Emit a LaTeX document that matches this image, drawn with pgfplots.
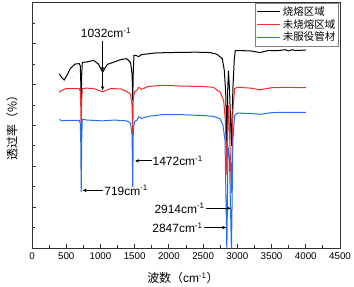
\documentclass[border=0pt]{standalone}
\usepackage{fontspec}
\setmainfont{Liberation Sans}
\newfontfamily\cjk{Noto Sans CJK SC}
\usepackage{pgfplots}
\pgfplotsset{compat=1.18}
\usetikzlibrary{arrows.meta}
\definecolor{myred}{RGB}{235,45,45}
\definecolor{myblue}{RGB}{35,110,235}
\definecolor{axgray}{RGB}{50,50,50}
\begin{document}
\begin{tikzpicture}
\begin{axis}[
  scale only axis, width=308bp, height=245.3bp,
  xmin=0, xmax=4500, ymin=0, ymax=6,
  xtick={0,500,...,4500}, minor x tick num=1,
  ytick={0,1,...,6}, minor y tick num=1, yticklabels={},
  tick pos=left,
  major tick length=4bp, minor tick length=2.5bp,
  axis line style={line width=0.9bp, axgray},
  tick style={line width=0.8bp, axgray},
  /pgf/number format/assume math mode=true,
  /pgf/number format/set thousands separator={},
  xticklabel style={font=\fontsize{9.8}{11}\selectfont, yshift=-1bp},
  xlabel={{\cjk 波数（}cm\textsuperscript{-1}{\cjk ）}},
  ylabel={{\cjk 透过率（}\%{\cjk ）}},
  xlabel style={font=\fontsize{12}{13}\selectfont, at={(axis description cs:0.49,-0.122)}, anchor=center},
  ylabel style={font=\fontsize{12}{13}\selectfont\cjk, at={(axis description cs:-0.065,0.5)}, anchor=center},
  legend style={at={(1,1)}, anchor=north east, xshift=-1bp, draw=gray, line width=0.6bp,
    font=\fontsize{10.5}{12}\selectfont\cjk, row sep=-1.5bp, inner sep=1.5bp, cells={anchor=west}},
  legend image code/.code={\draw[#1, line width=1.1bp] (0bp,0bp) -- (23bp,0bp);},
  every axis plot/.append style={line width=1bp},
]
\addplot[black] coordinates {
(400,4.26) (430,4.18) (470,4.11) (520,4.25) (560,4.39) (630,4.50) (690,4.51) (705,4.46) (712,4.10) (719,3.61) (726,4.22) (735,4.54)
(800,4.55) (900,4.59) (970,4.50) (1032,4.30) (1100,4.49) (1184,4.54) (1300,4.61) (1384,4.63) (1440,4.54) (1462,4.25) (1472,3.61)
(1480,4.34) (1490,4.71) (1520,4.71) (1560,4.68) (1600,4.73) (1800,4.77) (2000,4.78) (2400,4.79) (2600,4.78) (2700,4.74) (2780,4.63)
(2810,4.34) (2830,3.80) (2847,2.50) (2860,3.90) (2870,4.34) (2885,3.90) (2914,2.50) (2935,3.90) (2955,4.60) (2970,4.83) (3000,4.83)
(3200,4.82) (3330,4.78) (3450,4.83) (3600,4.83) (3700,4.85) (3750,4.82) (3800,4.85) (3850,4.83) (4000,4.84)
};
\addlegendentry{烧熔区域}
\addplot[myred] coordinates {
(400,3.81) (430,3.85) (500,3.90) (600,3.90) (690,3.90) (705,3.83) (712,3.49) (719,2.76) (726,3.61) (735,3.90) (800,3.91) (900,3.90)
(1032,3.82) (1150,3.90) (1300,3.89) (1384,3.83) (1440,3.76) (1462,3.49) (1472,2.76) (1480,3.66) (1500,3.83) (1530,3.85) (1560,3.93)
(1600,3.88) (1700,3.95) (1900,3.98) (2200,3.96) (2500,3.95) (2650,3.93) (2750,3.81) (2800,3.61) (2825,3.12) (2847,1.78) (2865,3.30)
(2872,3.49) (2885,2.88) (2914,1.34) (2935,3.37) (2960,3.90) (3000,3.93) (3200,3.91) (3330,3.87) (3500,3.92) (3700,3.93) (4000,3.92)
};
\addlegendentry{未烧熔区域}
\addplot[myblue] coordinates {
(400,3.14) (450,3.11) (500,3.12) (690,3.12) (705,3.05) (712,2.63) (719,1.37) (726,2.63) (735,3.15) (800,3.13) (1032,3.11) (1200,3.13)
(1384,3.11) (1440,3.05) (1462,2.76) (1472,1.49) (1480,2.88) (1500,3.10) (1530,3.12) (1560,3.21) (1600,3.17) (1700,3.22) (1900,3.26)
(2200,3.26) (2500,3.24) (2650,3.22) (2750,3.16) (2790,3.00) (2820,2.63) (2847,-0.10) (2862,2.20) (2872,2.39) (2885,2.20) (2914,-0.10)
(2935,2.63) (2960,3.24) (3000,3.30) (3200,3.29) (3330,3.27) (3500,3.31) (3700,3.32) (4000,3.32)
};
\addlegendentry{未服役管材}
% annotations
\node[font=\fontsize{12}{13}\selectfont, inner sep=0] at (axis cs:1080,5.26) {1032cm\textsuperscript{-1}};
\draw[-{Stealth[length=4bp,width=3.5bp]}, line width=0.9bp] (axis cs:1032,5.07) -- (axis cs:1032,4.33);
\draw[-{Stealth[length=4bp,width=3.5bp]}, line width=0.9bp] (axis cs:1032,4.28) -- (axis cs:1032,3.86);
\draw[-{Stealth[length=4bp,width=3.5bp]}, line width=0.9bp] (axis cs:1750,2.13) -- (axis cs:1506,2.13);
\node[font=\fontsize{12}{13}\selectfont, inner sep=0, anchor=west] at (axis cs:1760,2.13) {1472cm\textsuperscript{-1}};
\draw[-{Stealth[length=4bp,width=3.5bp]}, line width=0.9bp] (axis cs:1042,1.41) -- (axis cs:741,1.41);
\node[font=\fontsize{12}{13}\selectfont, inner sep=0, anchor=west] at (axis cs:1055,1.41) {719cm\textsuperscript{-1}};
\node[font=\fontsize{12}{13}\selectfont, inner sep=0, anchor=east] at (axis cs:2525,0.97) {2914cm\textsuperscript{-1}};
\draw[-{Stealth[length=4bp,width=3.5bp]}, line width=0.9bp] (axis cs:2540,0.97) -- (axis cs:2905,0.97);
\node[font=\fontsize{12}{13}\selectfont, inner sep=0, anchor=east] at (axis cs:2495,0.50) {2847cm\textsuperscript{-1}};
\draw[-{Stealth[length=4bp,width=3.5bp]}, line width=0.9bp] (axis cs:2510,0.50) -- (axis cs:2836,0.50);
\end{axis}
\pgfresetboundingbox
\path[use as bounding box] ([shift={(-32bp,-39bp)}]current axis.south west) rectangle ([shift={(14bp,2.7bp)}]current axis.north east);
\end{tikzpicture}
\end{document}
